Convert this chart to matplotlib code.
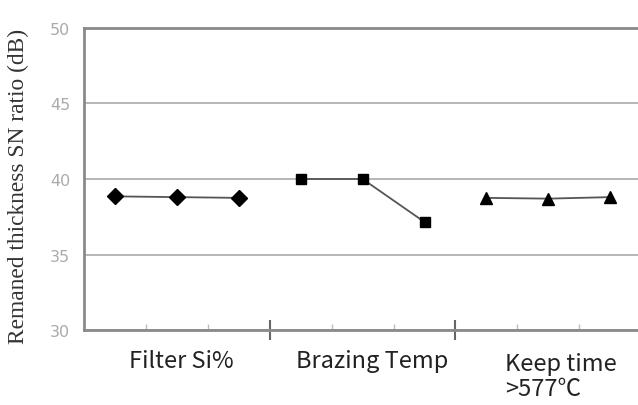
import numpy as np
import matplotlib.pyplot as plt

# values (SN ratio, dB)
filter_si = [38.85, 38.8, 38.75]
brazing_temp = [40.0, 40.0, 37.15]
keep_time = [38.75, 38.7, 38.8]
group_labels = ['Filter Si%', 'Brazing Temp', 'Keep time\n>577℃']
y_ticks = [30, 35, 40, 45, 50]

fig = plt.figure(figsize=(6.38, 4.06), dpi=100)
ax = fig.add_axes([0.1317, 0.1847, 0.8733, 0.7439])

gray = '#8a8a8a'
series = [(filter_si, 'D', 8), (brazing_temp, 's', 6.5), (keep_time, '^', 8.5)]
for i, (vals, mk, ms) in enumerate(series):
    x = np.arange(3) + 3 * i + 0.5
    ax.plot(x, vals, color='#555555', lw=1.3, marker=mk, ms=ms,
            mfc='black', mec='black', zorder=3)

ax.set_xlim(0, 9)
ax.set_ylim(30, 50)
ax.set_yticks(y_ticks)
ax.set_yticklabels([str(v) for v in y_ticks], fontsize=11.5, color='#aaaaaa',
                   fontfamily='Liberation Sans Narrow')
ax.tick_params(axis='y', length=0, pad=10)
ax.grid(axis='y', color='#aaaaaa', lw=1.2)
ax.set_axisbelow(True)

# category axis ticks: long ones between groups, short inside ones between levels
ax.set_xticks([3, 6])
ax.set_xticks([1, 2, 4, 5, 7, 8], minor=True)
ax.set_xticklabels([])
ax.tick_params(axis='x', which='major', direction='inout', length=14, width=1.5, color='#666666')
ax.tick_params(axis='x', which='minor', direction='in', length=4, width=1, color='#bbbbbb')

for side in ['left', 'bottom', 'top']:
    ax.spines[side].set_color(gray)
    ax.spines[side].set_linewidth(2)
ax.spines['right'].set_visible(False)

lab_font = ['Noto Sans CJK KR', 'DejaVu Sans']
tr = ax.get_xaxis_transform()
ax.text(1.57, -0.062, group_labels[0], transform=tr,
        ha='center', va='top', fontsize=17, family=lab_font, color='#222222')
ax.text(4.65, -0.062, group_labels[1], transform=tr,
        ha='center', va='top', fontsize=17, family=lab_font, color='#222222')
ax.text(6.8, -0.072, group_labels[2], transform=tr,
        ha='left', va='top', fontsize=17, family=lab_font, color='#222222',
        linespacing=1.15)

ax.set_ylabel('Remaned thickness SN ratio (dB)', fontsize=16.8,
              family='Liberation Serif', color='#333333')
ax.yaxis.set_label_coords(-0.098, 0.48)

fig.savefig('out.png', dpi=100)
